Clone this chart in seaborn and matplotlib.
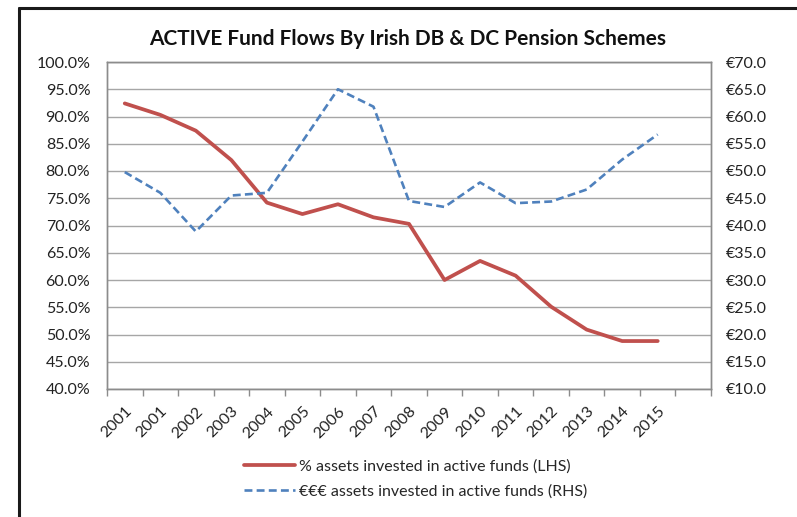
import matplotlib
matplotlib.use("Agg")
import matplotlib.pyplot as plt
from matplotlib.lines import Line2D
from matplotlib.ticker import FuncFormatter, MultipleLocator
import pandas as pd
import seaborn as sns

years = ['2001', '2001', '2002', '2003', '2004', '2005', '2006', '2007',
         '2008', '2009', '2010', '2011', '2012', '2013', '2014', '2015']
pct_active = [92.4, 90.3, 87.4, 82.0, 74.2, 72.1, 73.9, 71.5,
              70.3, 60.0, 63.5, 60.8, 55.1, 50.9, 48.8, 48.8]
eur_active = [49.8, 46.0, 38.9, 45.5, 46.0, 55.4, 65.0, 61.8,
              44.5, 43.4, 47.9, 44.1, 44.4, 46.6, 52.1, 56.7]

df = pd.DataFrame({'pos': range(len(years)), 'year': years,
                   'pct': pct_active, 'eur': eur_active})

sns.set_theme(style='white')
plt.rcParams['font.family'] = ['Lato', 'DejaVu Sans']

red = '#C0504D'
blue = '#4F81BD'
grey = '#8C8C8C'

fig = plt.figure(figsize=(7.97, 5.17), dpi=100)
ax = fig.add_axes([107/797, 1-389/517, (711-107)/797, (389-62)/517])
ax2 = ax.twinx()

sns.lineplot(data=df, x='pos', y='pct', ax=ax, color=red, linewidth=2.7,
             legend=False, label='% assets invested in active funds (LHS)')
sns.lineplot(data=df, x='pos', y='eur', ax=ax2, color=blue, linewidth=1.9,
             linestyle=(0, (3, 1.6)), legend=False,
             label='€€€ assets invested in active funds (RHS)')

ax.set_ylim(40, 100)
ax2.set_ylim(10, 70)
ax.yaxis.set_major_locator(MultipleLocator(5))
ax2.yaxis.set_major_locator(MultipleLocator(5))
ax.yaxis.set_major_formatter(FuncFormatter(lambda v, p: f'{v:.1f}%'))
ax2.yaxis.set_major_formatter(FuncFormatter(lambda v, p: f'€{v:.1f}'))
ax.grid(axis='y', color='#A6A6A6', linewidth=1)
ax.set_axisbelow(True)

ax.set_xlim(-0.5, 16.5)
ax.set_xticks(df['pos'])
ax.set_xticklabels(years, rotation=45, ha='right', rotation_mode='anchor')
ax.set_xticks([i - 0.5 for i in range(18)], minor=True)
ax.tick_params(axis='x', which='major', length=0, pad=11, labelsize=11.5,
               labelcolor='#222222')
ax.tick_params(axis='x', which='minor', length=5, width=1, color=grey,
               direction='out', bottom=True)
ax.tick_params(axis='y', length=0, pad=12, labelsize=11.5, labelcolor='#222222')
ax2.tick_params(axis='y', length=0, pad=11, labelsize=11.5, labelcolor='#222222')
ax.set_xlabel('')
ax.set_ylabel('')
ax2.set_ylabel('')

for a in (ax, ax2):
    for s in a.spines.values():
        s.set_color(grey)
        s.set_linewidth(1)

fig.text(408/797, 1-39/517, 'ACTIVE Fund Flows By Irish DB & DC Pension Schemes',
         ha='center', va='center', fontsize=15, fontweight='bold', color='#111111')

h1, l1 = ax.get_legend_handles_labels()
h2, l2 = ax2.get_legend_handles_labels()
fig.legend(h1 + h2, l1 + l2, loc='center left', frameon=False,
           bbox_to_anchor=(244/797, 1-479/517), fontsize=11.5,
           handlelength=3.2, handletextpad=0.25, labelspacing=0.7,
           borderpad=0, borderaxespad=0)

# black frame edges of the cropped chart area
fig.add_artist(Line2D([19/797, 19/797], [0, 1-8/517], color='#1a1a1a',
                      linewidth=2.2, transform=fig.transFigure))
fig.add_artist(Line2D([19/797, 1], [1-8/517, 1-8/517], color='#1a1a1a',
                      linewidth=2.2, transform=fig.transFigure))

fig.savefig('out.png', dpi=100)
